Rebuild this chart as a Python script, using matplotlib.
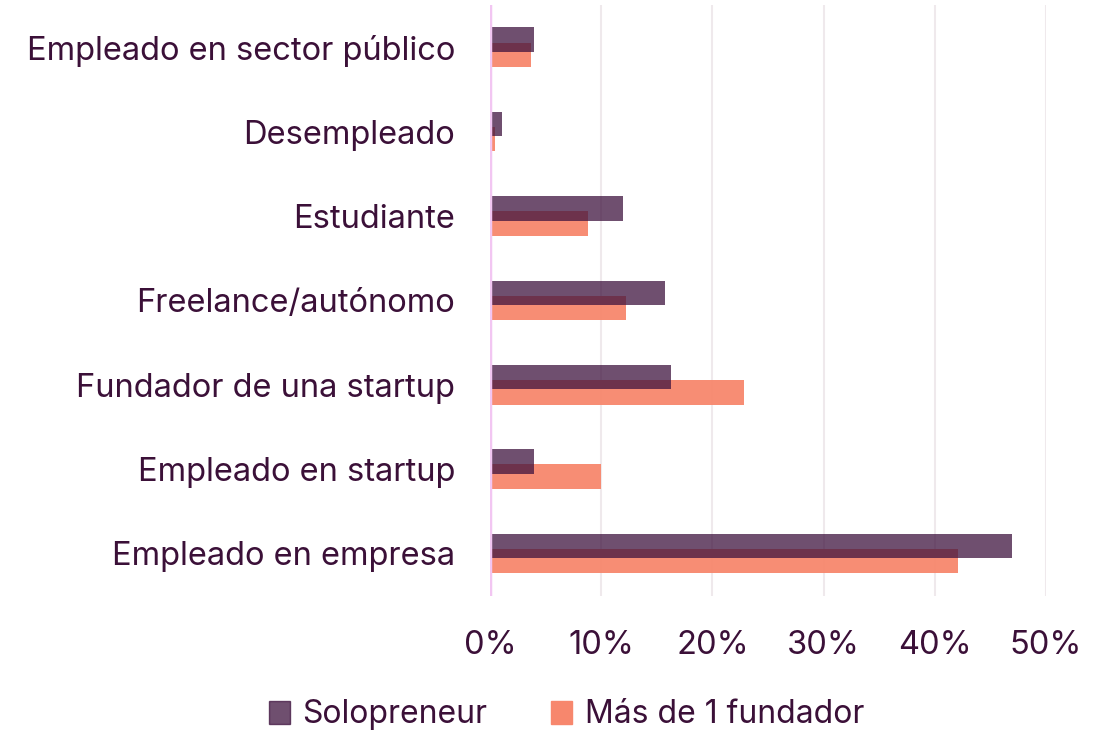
import matplotlib.pyplot as plt
import matplotlib.patches as mpatches
import numpy as np

# Paleta
C_TEXTO = "#3b1038"
C_SOLO = "#3f143f"
C_MAS = "#f7876d"
C_GRID = "#ece4e8"
C_CERO = "#f2c6f2"

# Datos (%)
categorias = [
    "Empleado en empresa",
    "Empleado en startup",
    "Fundador de una startup",
    "Freelance/autónomo",
    "Estudiante",
    "Desempleado",
    "Empleado en sector público",
]
solopreneur = [46.9, 4.0, 16.3, 15.7, 12.0, 1.1, 4.0]
mas_de_1 = [42.1, 10.0, 22.8, 12.2, 8.8, 0.45, 3.7]
ticks_x = [0, 10, 20, 30, 40, 50]

plt.rcParams["font.family"] = ["Inter", "DejaVu Sans"]

fig = plt.figure(figsize=(11.11, 7.3), dpi=100)
ax = fig.add_axes([0.441, 0.184, 0.5005, 0.809])

y = np.arange(len(categorias))
bar_h = 0.29
off = 0.09

# primera categoría abajo; Solopreneur encima
ax.barh(y - off, mas_de_1, height=bar_h, color=C_MAS, alpha=0.95, zorder=2)
ax.barh(y + off, solopreneur, height=bar_h, color=C_SOLO, alpha=0.75, zorder=3)

ax.set_xlim(0, 50)
ax.set_ylim(-0.5, len(categorias) - 0.5)
ax.set_yticks(y)
ax.set_yticklabels(categorias, fontsize=23.5, color=C_TEXTO)

ax.set_xticks(ticks_x)
ax.set_xticklabels([f"{t}%" for t in ticks_x], fontsize=23.5, color=C_TEXTO)
ax.tick_params(axis="x", length=0, pad=25)
ax.tick_params(axis="y", length=0, pad=25)

ax.grid(axis="x", color=C_GRID, lw=1.5, zorder=4, alpha=0.8)
ax.axvline(0, color=C_CERO, lw=2.5, zorder=5)
for s in ax.spines.values():
    s.set_visible(False)

patch_s = mpatches.Patch(color=C_SOLO, alpha=0.75, label="Solopreneur")
patch_m = mpatches.Patch(color=C_MAS, label="Más de 1 fundador")
fig.legend(handles=[patch_s, patch_m], loc="lower center",
           bbox_to_anchor=(0.51, -0.04), ncol=2, frameon=False,
           fontsize=23, labelcolor=C_TEXTO, handlelength=0.65,
           handleheight=0.75, handletextpad=0.4, columnspacing=2.0)

fig.savefig("out.png", dpi=100, facecolor="white")
